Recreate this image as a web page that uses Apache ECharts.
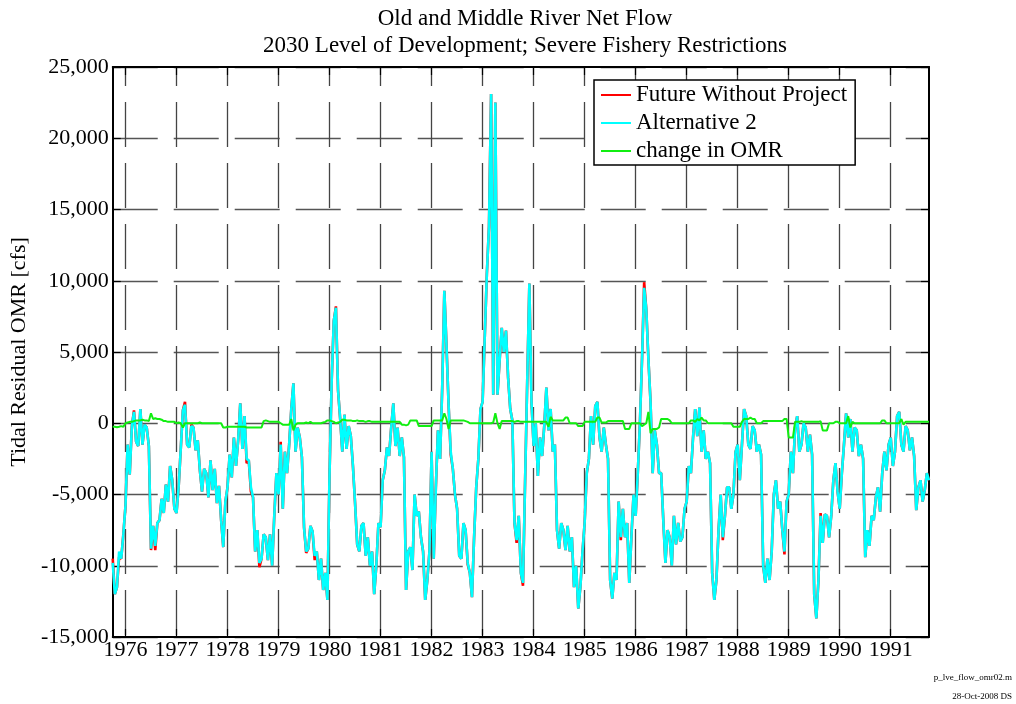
<!DOCTYPE html>
<html><head><meta charset="utf-8">
<script src="https://cdn.jsdelivr.net/npm/echarts@6/dist/echarts.min.js"></script>
<style>html,body{margin:0;padding:0;background:#fff}#c{width:1016px;height:704px}</style>
</head><body><div id="c"></div>
<script>
// Half-monthly samples (1st and 16th of each month), Oct 1975 .. Sep 1991, plus end point
const startYear = 1975, startMonth = 9;
const yearLabels = ['1976','1977','1978','1979','1980','1981','1982','1983','1984','1985','1986','1987','1988','1989','1990','1991'];
const yTicks = [-15000,-10000,-5000,0,5000,10000,15000,20000,25000];

// Alternative 2 (cfs)
const alt2 = [
-9800,-12000,-11500,-9000,-9500,-7800,-5800,-1500,-3600,-200,800,-1300,-1600,1000,-1500,-100,-300,-1600,-8800,-7200,-8600,-7000,-6800,-5300,
-6300,-4300,-5500,-3000,-4000,-6000,-6300,-4500,-1800,900,1300,-1500,-1700,-200,-300,-1900,-1200,-3300,-4800,-3200,-3500,-5200,-2600,-4700,
-3200,-5600,-4400,-6800,-8700,-5500,-4500,-2200,-3800,-1000,-3000,-1200,1400,-1800,500,-2500,-2600,-4500,-5200,-9000,-7500,-9800,-9500,-7800,
-8000,-9600,-7800,-10000,-6500,-3500,-5000,-1500,-6000,-2000,-3500,-1500,1000,2800,-2000,-300,-1000,-2400,-7300,-9000,-8800,-7200,-7600,-9300,
-9000,-11000,-9500,-11700,-10500,-12400,-3500,3000,7200,8100,2300,300,-2000,600,-1800,-200,-900,-3000,-5600,-8500,-9000,-7200,-7000,-9300,
-8000,-10000,-9000,-12000,-10000,-7000,-7300,-4000,-3300,-1700,-2300,-300,1400,-1600,-300,-2300,-1000,-2400,-11700,-9000,-8700,-10300,-5000,-6500,
-6200,-8000,-9000,-12400,-11000,-9000,-2000,-9500,-4500,-500,-2500,2500,9300,5500,1300,-2000,-3200,-5000,-6000,-9300,-9500,-7000,-7500,-9800,
-10500,-12200,-8000,-4500,-2500,1000,1500,6000,10500,13800,23100,2000,22500,2000,4400,6700,5000,6500,3200,1000,200,-7000,-8200,-6500,
-10500,-11200,-4000,3000,9800,1500,-1600,0,-3700,-1000,-2300,-200,2500,-500,1000,-2000,-1500,-7500,-8800,-7000,-7500,-8900,-7200,-9000,
-8000,-11500,-10000,-13000,-11500,-9000,-7000,-3500,-2500,500,-1500,1200,1500,-1000,-2000,-300,-1500,-2500,-11000,-12300,-10500,-11000,-5500,-8000,
-6000,-8000,-7000,-11200,-8000,-5000,-6500,-3500,0,4500,9500,8000,4500,1500,-3500,-500,-1500,-3500,-3500,-6800,-9800,-7500,-8000,-10000,
-6500,-8500,-7000,-8300,-8000,-6000,-5500,-3000,-3500,-1000,1000,-900,1100,-2000,-500,-2500,-2000,-2800,-10500,-12400,-11000,-7500,-5000,-8000,
-6500,-4500,-4500,-6000,-5000,-2000,-1500,-4000,-1500,1000,500,-1500,-1800,-200,-500,-2000,-1500,-2200,-10000,-11200,-9500,-11000,-9000,-5000,
-4000,-6000,-5500,-7500,-9000,-5500,-5000,-2000,-3500,-300,500,-2000,-1500,0,-300,-2000,-800,-2200,-12000,-13700,-11000,-6500,-8400,-6400,
-6500,-8000,-6500,-4000,-2800,-4800,-6000,-3500,-1500,700,-1000,300,-2000,-300,-500,-2300,-1500,-2500,-9400,-7500,-8600,-6500,-6800,-5200,
-4500,-6200,-3500,-2000,-3300,-1500,-1000,-3000,-2000,500,800,-1500,-2000,-200,-500,-1900,-1000,-2300,-6100,-4500,-4000,-5500,-4700,-3500,
-4000];

// Future Without Project (cfs)
const fwp = [
-9500,-12000,-11500,-9400,-9500,-7800,-5800,-1500,-3600,-200,900,-1300,-1600,1000,-1500,-100,-300,-1600,-8900,-7200,-8900,-7000,-6800,-5300,
-6300,-4300,-5500,-3000,-4000,-6000,-6300,-4500,-1800,900,1500,-1500,-1700,-100,-300,-1900,-1200,-3300,-4800,-3200,-3500,-5200,-2600,-4700,
-3200,-5600,-4400,-6800,-8700,-5500,-4500,-2200,-3800,-1000,-3000,-1200,1400,-1800,500,-2800,-2600,-4800,-5200,-9000,-7500,-10100,-9500,-7800,
-8000,-9600,-7800,-10000,-6500,-3500,-5000,-1300,-6000,-2000,-3500,-1500,1000,2800,-2000,-300,-1000,-2400,-7300,-9100,-8800,-7200,-7600,-9600,
-9000,-11000,-9500,-11700,-10500,-12400,-3500,3000,7200,8200,2300,300,-2000,600,-1800,-200,-900,-3000,-5600,-8500,-9000,-7200,-7000,-9300,
-8000,-10000,-9000,-12000,-10000,-7000,-7300,-4000,-3300,-1700,-2300,-300,1400,-1600,-300,-2300,-1000,-2400,-11700,-9000,-8700,-10300,-5000,-6500,
-6200,-8000,-9000,-12400,-11000,-9000,-2000,-9500,-4500,-500,-2500,2500,9300,5500,1300,-2200,-3200,-5000,-6000,-9300,-9500,-7000,-7500,-9900,
-10500,-12200,-8000,-4500,-2500,1000,1500,6000,10500,13800,23100,2000,22500,2000,4400,6700,5000,6500,3200,1000,200,-7000,-8400,-6500,
-10500,-11400,-4000,3000,9800,1500,-1600,0,-3700,-1000,-2300,-200,2500,-500,1000,-2000,-1500,-7500,-8800,-7000,-7500,-8900,-7200,-9000,
-8000,-11500,-10000,-13000,-11500,-9000,-7000,-3500,-2500,500,-1500,1200,1500,-1000,-2000,-300,-1500,-2500,-11000,-12300,-10500,-11000,-5500,-8200,
-6000,-8000,-7000,-11200,-8000,-5000,-6500,-3500,0,4500,9900,8000,4500,1500,-3500,-500,-1500,-3500,-3500,-6800,-9800,-7500,-8000,-10000,
-6500,-8500,-7000,-8300,-8000,-6000,-5500,-3000,-3500,-1000,1000,-900,1100,-2000,-500,-2500,-2000,-2800,-10500,-12400,-11000,-7500,-5000,-8200,
-6500,-4500,-4500,-6000,-5000,-2000,-1500,-4000,-1500,1000,500,-1500,-1800,-200,-500,-2000,-1500,-2200,-10000,-11200,-9500,-11000,-9000,-5000,
-4000,-6000,-5500,-7500,-9200,-5500,-5000,-2000,-3500,-300,500,-2000,-1500,0,-300,-2000,-800,-2200,-12000,-13700,-11000,-6300,-8400,-6400,
-6500,-8000,-6500,-4000,-2800,-4800,-6000,-3500,-1500,700,-1000,300,-2000,-300,-500,-2300,-1500,-2500,-9400,-7500,-8600,-6500,-6800,-5200,
-4500,-6200,-3500,-2000,-3300,-1500,-1000,-3000,-2000,500,800,-1500,-2000,-200,-500,-1900,-1000,-2300,-6100,-4500,-4000,-5500,-4700,-3500,
-4000];

// change in OMR (cfs)
const changeOMR = [
-250,-250,-280,-250,-200,-250,0,50,100,100,150,200,200,200,250,200,200,150,700,300,350,300,300,250,
150,150,100,100,100,100,0,50,0,-300,0,0,0,0,0,0,0,50,0,0,0,0,0,0,
0,0,0,0,-300,-300,-250,-250,-250,-250,-250,-250,-250,-250,-250,-300,-300,-300,-300,-300,-300,-300,-300,150,
200,150,100,100,100,100,100,0,-100,-100,-100,-100,300,-500,-100,0,0,0,0,50,0,100,0,0,
0,0,0,50,100,200,200,150,100,0,50,100,250,250,200,200,200,150,150,200,150,150,150,100,
150,150,100,100,100,100,100,100,100,100,100,100,100,100,100,100,-100,-100,-150,-100,200,200,200,200,
-200,-200,-200,-200,-200,-200,-200,200,200,200,200,200,700,300,-400,200,200,200,200,200,200,200,150,100,
0,0,0,0,0,0,0,0,0,0,0,50,700,0,-400,150,150,150,150,150,150,100,150,150,
100,100,100,100,100,100,100,100,100,100,100,100,100,-250,450,200,200,200,200,200,200,400,400,0,
0,0,0,-200,-200,-200,100,100,100,100,100,100,400,400,50,50,50,150,150,150,150,150,150,150,
150,-400,-400,-400,0,0,0,0,0,-200,-100,0,800,-700,-400,-400,-400,-300,300,300,300,300,200,0,
0,0,0,0,0,0,0,0,200,200,100,300,200,400,200,200,0,0,0,0,0,0,0,0,
0,0,0,0,-250,-250,-250,-250,100,300,300,300,400,300,300,0,0,0,150,150,150,150,150,150,
150,150,150,150,300,300,-1000,-1000,-1000,100,100,100,150,100,100,100,100,100,100,100,100,150,-500,-500,
-500,0,0,0,100,100,0,0,0,0,500,-300,100,0,0,0,0,0,0,0,0,0,0,0,
0,0,200,200,0,0,0,0,0,0,0,300,-100,100,100,100,100,100,100,100,100,100,100,100,
100];

const cats = [];
for (let i = 0; i < alt2.length; i++) {
  const m = startMonth + Math.floor(i / 2);
  const y = startYear + Math.floor(m / 12);
  const mm = (m % 12) + 1;
  cats.push(y + '-' + String(mm).padStart(2, '0') + '-' + (i % 2 ? '16' : '01'));
}
const isYear = (idx, val) => val.endsWith('-01-01') && yearLabels.indexOf(val.slice(0, 4)) >= 0;

const FONT = '"Liberation Serif", "Times New Roman", serif';
const chart = echarts.init(document.getElementById('c'), null, {renderer: 'canvas'});
chart.setOption({
  animation: false,
  backgroundColor: '#fff',
  title: {
    text: 'Old and Middle River Net Flow\n2030 Level of Development; Severe Fishery Restrictions',
    left: 520, top: 0, textAlign: 'center',
    textStyle: {fontFamily: FONT, fontSize: 23, fontWeight: 'normal', color: '#000', lineHeight: 27}
  },
  legend: {
    orient: 'vertical', left: 594, top: 80,
    backgroundColor: '#fff', borderColor: '#000', borderWidth: 1.5,
    padding: [3, 8, 2, 7], itemGap: 4, itemWidth: 30, itemHeight: 2, icon: 'rect',
    textStyle: {fontFamily: FONT, fontSize: 23, color: '#000', lineHeight: 24},
    data: ['Future Without Project', 'Alternative 2', 'change in OMR']
  },
  grid: {left: 112, right: 87, top: 67, bottom: 67, containLabel: false},
  xAxis: [{
    type: 'category', data: cats, boundaryGap: false,
    axisLine: {show: true, onZero: false, lineStyle: {color: '#000', width: 2}},
    axisTick: {show: true, inside: true, length: 8, interval: isYear, lineStyle: {color: '#000', width: 1.2}},
    axisLabel: {interval: isYear, formatter: v => v.slice(0, 4), margin: 2,
      fontFamily: FONT, fontSize: 22, color: '#000'},
    splitLine: {show: true, interval: isYear,
      lineStyle: {color: '#444', width: 1.3, type: [45, 16], dashOffset: 26}}
  }, {
    type: 'category', data: cats, boundaryGap: false, position: 'top',
    axisLine: {show: true, onZero: false, lineStyle: {color: '#000', width: 2}},
    axisTick: {show: true, inside: true, length: 8, interval: isYear, lineStyle: {color: '#000', width: 1.2}},
    axisLabel: {show: false}, splitLine: {show: false}
  }],
  yAxis: [{
    type: 'value', min: -15000, max: 25000, interval: 5000,
    name: 'Tidal Residual OMR [cfs]', nameLocation: 'middle', nameGap: 80,
    nameTextStyle: {fontFamily: FONT, fontSize: 22, color: '#000'},
    axisLine: {show: true, onZero: false, lineStyle: {color: '#000', width: 2}},
    axisTick: {show: true, inside: true, length: 8, lineStyle: {color: '#000', width: 1.2}},
    axisLabel: {margin: 4, fontFamily: FONT, fontSize: 22, color: '#000',
      formatter: v => yTicks.indexOf(v) >= 0 ? v.toLocaleString('en-US') : ''},
    splitLine: {show: true, lineStyle: {color: '#555', width: 1.3, type: [45, 16], dashOffset: 0}}
  }, {
    type: 'value', min: -15000, max: 25000, interval: 5000, position: 'right',
    axisLine: {show: true, onZero: false, lineStyle: {color: '#000', width: 2}},
    axisTick: {show: true, inside: true, length: 8, lineStyle: {color: '#000', width: 1.2}},
    axisLabel: {show: false}, splitLine: {show: false}
  }],
  series: [
    {name: 'Future Without Project', type: 'line', data: fwp, showSymbol: false, symbol: 'none',
     color: '#ff0000', lineStyle: {color: '#ff0000', width: 2.6}, z: 2},
    {name: 'Alternative 2', type: 'line', data: alt2, showSymbol: false, symbol: 'none',
     color: '#00ffff', lineStyle: {color: '#00ffff', width: 2.6}, z: 3},
    {name: 'change in OMR', type: 'line', data: changeOMR, showSymbol: false, symbol: 'none',
     color: '#11ee11', lineStyle: {color: '#11ee11', width: 2}, z: 4}
  ],
  graphic: [
    {type: 'text', right: 4, top: 673, style: {text: 'p_lve_flow_omr02.m', font: '9px ' + FONT, fill: '#000'}},
    {type: 'text', right: 4, top: 692, style: {text: '28-Oct-2008 DS', font: '9px ' + FONT, fill: '#000'}}
  ]
});
</script></body></html>
